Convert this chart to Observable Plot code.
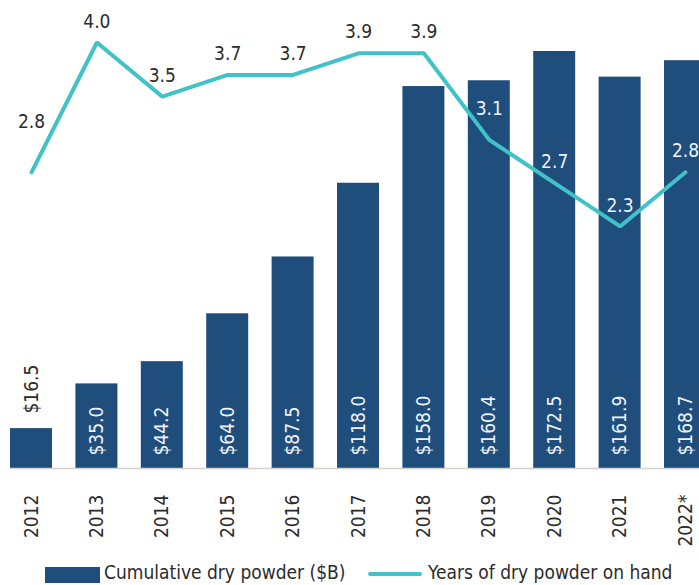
<!DOCTYPE html>
<html>
<head>
<meta charset="utf-8">
<script src="https://cdn.jsdelivr.net/npm/d3@7"></script>
<script src="https://cdn.jsdelivr.net/npm/@observablehq/plot@0.6"></script>
<style>
  html, body { margin: 0; padding: 0; background: #fff; overflow: hidden; }
  body { width: 699px; height: 585px; font-family: "DejaVu Sans Condensed", "DejaVu Sans", sans-serif; font-stretch: condensed; }
  #wrap { position: relative; width: 699px; height: 556px; }
  #wrap > svg, #wrap > figure { position: absolute; left: 0; top: 0; margin: 0; }
  #legend { position: absolute; left: 0; top: 561px; width: 699px; height: 24px; font-size: 19px; color: #2b2b2b; }
  .sw-bar { position: absolute; left: 45px; top: 6px; width: 55px; height: 16px; background: #1f4e7d; }
  .sw-line { position: absolute; left: 368px; top: 11px; width: 54px; height: 4px; background: #41c2c8; border-radius: 2px; }
  .lab1 { position: absolute; left: 104px; top: 0px; white-space: nowrap; }
  .lab2 { position: absolute; left: 428px; top: 0px; white-space: nowrap; }
</style>
</head>
<body>
<div id="wrap"></div>
<div id="legend">
  <div class="sw-bar"></div><div class="lab1">Cumulative dry powder ($B)</div>
  <div class="sw-line"></div><div class="lab2">Years of dry powder on hand</div>
</div>
<script>
const years = ["2012", "2013", "2014", "2015", "2016", "2017", "2018", "2019", "2020", "2021", "2022*"];
const dryPowder = [16.5, 35.0, 44.2, 64.0, 87.5, 118.0, 158.0, 160.4, 172.5, 161.9, 168.7];
const yearsOnHand = [2.8, 4.0, 3.5, 3.7, 3.7, 3.9, 3.9, 3.1, 2.7, 2.3, 2.8];

const FONT = '"DejaVu Sans Condensed", "DejaVu Sans", sans-serif';
const FS = 19;
const W = 699, H = 556;
const barColor = "#1f4e7d";
const lineColor = "#41c2c8";
const dark = "#2b2b2b";
const light = "#eef2f7";

const data = years.map((y, i) => ({year: y, value: dryPowder[i], yrs: yearsOnHand[i], i}));

const xScale = {type: "band", domain: years, range: [-13.4, 729.4], padding: 0.358, round: false};

const bars = Plot.plot({
  width: W, height: H,
  marginLeft: 10, marginRight: 0, marginTop: 0, marginBottom: H - 468,
  style: {fontFamily: FONT, fontSize: FS + "px", background: "transparent", color: dark},
  x: {...xScale, label: null},
  y: {domain: [0, 193.6], range: [468, 0], axis: null},
  marks: [
    Plot.barY(data, {x: "year", y: "value", fill: barColor}),
    Plot.ruleY([0], {stroke: "#d5d1cc", strokeWidth: 1.5}),
    Plot.text(data.filter(d => d.value >= 30), {
      x: "year", y: 0, text: d => "$" + d.value.toFixed(1),
      rotate: -90, textAnchor: "start", dy: -13, fill: light, fontSize: FS
    }),
    Plot.text(data.filter(d => d.value < 30), {
      x: "year", y: "value", text: d => "$" + d.value.toFixed(1),
      rotate: -90, textAnchor: "start", dy: -15, fill: dark, fontSize: FS
    }),
    Plot.axisX({tickRotate: -90, tickSize: 0, tickPadding: 26, fontSize: FS, fill: dark, label: null})
  ]
});

const line = Plot.plot({
  width: W, height: H,
  marginLeft: 10, marginRight: 0, marginTop: 0, marginBottom: H - 468,
  style: {fontFamily: FONT, fontSize: FS + "px", background: "transparent", color: dark},
  x: {...xScale, axis: null},
  y: {domain: [0, 4.4], range: [474.8, -1.3], axis: null},
  marks: [
    Plot.lineY(data, {x: "year", y: "yrs", stroke: lineColor, strokeWidth: 4, strokeLinejoin: "miter", strokeLinecap: "round"}),
    Plot.text(data.filter(d => d.i !== 0 && d.i !== 7), {
      x: "year", y: "yrs", text: d => d.yrs.toFixed(1), dy: -21,
      fill: d => d.i >= 7 ? light : dark, fontSize: FS
    }),
    Plot.text(data.filter(d => d.i === 0), {
      x: "year", y: "yrs", text: d => d.yrs.toFixed(1), dy: -50, fill: dark, fontSize: FS
    }),
    Plot.text(data.filter(d => d.i === 7), {
      x: "year", y: "yrs", text: d => d.yrs.toFixed(1), dy: -31, fill: light, fontSize: FS
    })
  ]
});

const wrap = document.getElementById("wrap");
wrap.appendChild(bars);
wrap.appendChild(line);
</script>
</body>
</html>
